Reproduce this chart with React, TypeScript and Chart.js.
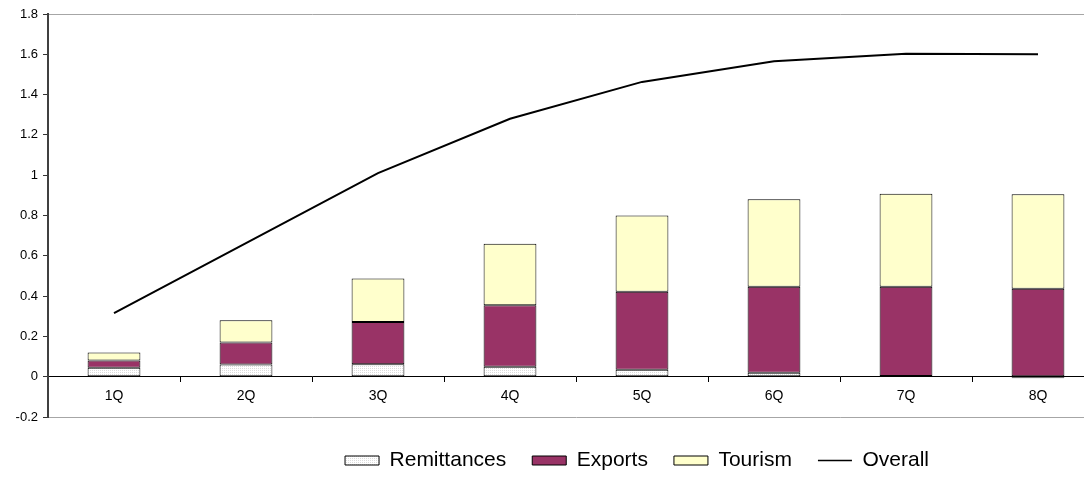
import React, { useEffect, useRef } from 'react';
import { Chart, registerables } from 'chart.js';

Chart.register(...registerables);

const categories = ['1Q', '2Q', '3Q', '4Q', '5Q', '6Q', '7Q', '8Q'];
const remittances = [0.045, 0.06, 0.062, 0.05, 0.035, 0.02, 0.003, -0.008];
const exportsValues = [0.035, 0.11, 0.21, 0.305, 0.387, 0.426, 0.443, 0.436];
const tourism = [0.04, 0.11, 0.215, 0.305, 0.378, 0.435, 0.462, 0.47];
const overall = [0.315, 0.663, 1.01, 1.28, 1.463, 1.565, 1.603, 1.6];
const seriesNames = ['Remittances', 'Exports', 'Tourism', 'Overall'];

const Y_MIN = -0.2;
const Y_MAX = 1.8;
const Y_STEP = 0.2;

const FONT = "'Liberation Sans', Arial, Helvetica, sans-serif";
const CANVAS_W = 1104;
const CANVAS_H = 478;
const LEGEND_CENTER_X = 637;
const LEGEND_TOP = 424;

const legendShift = {
  id: 'legendShift',
  afterLayout(chart: any) {
    const lg = chart.legend;
    if (!lg) return;
    const dx = LEGEND_CENTER_X - (lg.left + lg.right) / 2;
    const dy = LEGEND_TOP - lg.top;
    lg.left += dx;
    lg.right += dx;
    lg.top += dy;
    lg.bottom += dy;
  },
};

export default function App() {
  const ref = useRef<HTMLCanvasElement | null>(null);

  useEffect(() => {
    const canvas = ref.current;
    if (!canvas) return;
    const ctx = canvas.getContext('2d');
    let dots: any = '#f4f4f4';
    if (ctx) {
      const pc = document.createElement('canvas');
      pc.width = 2;
      pc.height = 2;
      const g = pc.getContext('2d');
      if (g) {
        g.fillStyle = '#ffffff';
        g.fillRect(0, 0, 2, 2);
        g.fillStyle = '#dcdcdc';
        g.fillRect(0, 0, 1, 1);
        dots = ctx.createPattern(pc, 'repeat') || '#f4f4f4';
      }
    }

    Chart.defaults.font.family = FONT;
    Chart.defaults.color = '#000';

    const chart = new Chart(canvas, {
      type: 'bar',
      data: {
        labels: categories,
        datasets: [
          {
            label: seriesNames[0],
            data: remittances,
            backgroundColor: dots,
            borderColor: '#000',
            borderWidth: 1,
            borderSkipped: false,
            stack: 'bars',
            pointStyle: 'rect',
          } as any,
          {
            label: seriesNames[1],
            data: exportsValues,
            backgroundColor: '#993366',
            borderColor: '#000',
            borderWidth: 1,
            borderSkipped: false,
            stack: 'bars',
            pointStyle: 'rect',
          } as any,
          {
            label: seriesNames[2],
            data: tourism,
            backgroundColor: '#FFFFCC',
            borderColor: '#000',
            borderWidth: 1,
            borderSkipped: false,
            stack: 'bars',
            pointStyle: 'rect',
          } as any,
          {
            type: 'line',
            label: seriesNames[3],
            data: overall,
            borderColor: '#000',
            backgroundColor: '#000',
            borderWidth: 2,
            pointRadius: 0,
            pointHoverRadius: 0,
            tension: 0,
            fill: false,
            stack: 'line',
            pointStyle: 'line',
          } as any,
        ],
      },
      options: {
        animation: false,
        responsive: false,
        devicePixelRatio: 1,
        layout: { padding: { left: 0, right: 0, top: 14, bottom: 4 } },
        datasets: {
          bar: { barPercentage: 0.4, categoryPercentage: 1 },
        },
        plugins: {
          tooltip: { enabled: false },
          legend: {
            position: 'bottom',
            labels: {
              font: { size: 21, family: FONT },
              color: '#000',
              usePointStyle: true,
              pointStyleWidth: 34,
              boxHeight: 9,
              padding: 26,
              generateLabels: (chart: any) => {
                const items = Chart.defaults.plugins.legend.labels.generateLabels(chart);
                return items.map((it: any, i: number) => {
                  if (i === 3) {
                    return { ...it, pointStyle: 'line', lineWidth: 1.5, strokeStyle: '#000' };
                  }
                  return { ...it, pointStyle: 'rect', lineWidth: 1, strokeStyle: '#000' };
                });
              },
            },
          },
        },
        scales: {
          x: {
            position: { y: 0 } as any,
            stacked: true,
            offset: true,
            grid: {
              offset: true,
              drawOnChartArea: false,
              drawTicks: true,
              tickLength: 5,
              color: '#000',
              lineWidth: 1,
            },
            border: { display: true, color: '#000', width: 1 },
            ticks: {
              font: { size: 14, family: FONT },
              color: '#000',
              padding: 6,
              autoSkip: false,
              maxRotation: 0,
            },
          },
          y: {
            stacked: true,
            min: Y_MIN,
            max: Y_MAX,
            afterFit: (scale: any) => {
              scale.width = 48;
            },
            grid: {
              drawOnChartArea: true,
              drawTicks: true,
              tickLength: 5,
              tickColor: '#333',
              lineWidth: 1,
              color: (c: any) => {
                const v = c.tick ? c.tick.value : 0;
                if (Math.abs(v - Y_MAX) < 1e-6 || Math.abs(v - Y_MIN) < 1e-6) return '#a6a6a6';
                return 'rgba(0,0,0,0)';
              },
            },
            border: { display: true, color: '#404040', width: 2 },
            ticks: {
              stepSize: Y_STEP,
              font: { size: 13, family: FONT },
              color: '#000',
              padding: 5,
              callback: (v: any) => String(Math.round(Number(v) * 10) / 10),
            },
          },
        },
      },
      plugins: [legendShift],
    } as any);

    return () => {
      chart.destroy();
    };
  }, []);

  return (
    <div style={{ width: 1092, height: CANVAS_H, overflow: 'hidden', margin: -8, background: '#fff' }}>
      <canvas ref={ref} width={CANVAS_W} height={CANVAS_H} style={{ display: 'block', width: CANVAS_W, height: CANVAS_H }} />
    </div>
  );
}
